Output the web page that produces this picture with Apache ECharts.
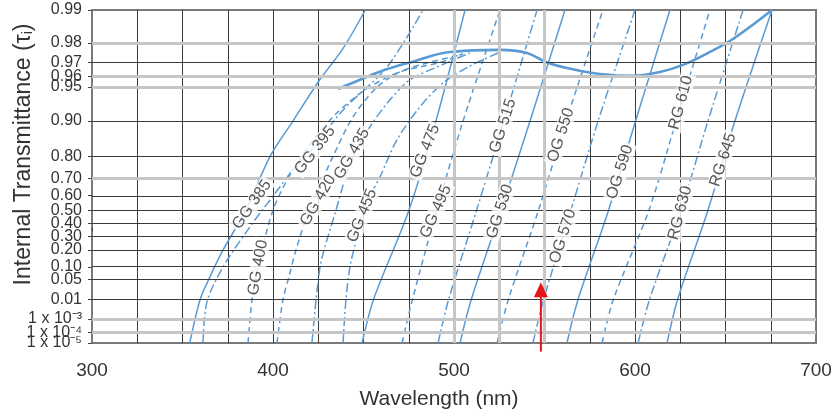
<!DOCTYPE html>
<html><head><meta charset="utf-8">
<script src="https://cdn.jsdelivr.net/npm/echarts@6/dist/echarts.min.js"></script>
<style>html,body{margin:0;padding:0;background:#fff}#c{width:832px;height:416px}</style>
</head><body><div id="c"></div>
<script>
// ---- axis data ----
const xMin = 300, xMax = 700, xStep = 25;
const xTickLabels = [300, 400, 500, 600, 700];
const xGrayLines = [500, 525, 550];
const yTickValues = [0.99, 0.98, 0.97, 0.96, 0.95, 0.90, 0.80, 0.70, 0.60, 0.50, 0.40, 0.30, 0.20, 0.10, 0.05, 0.01, 1e-3, 1e-4, 1e-5];
const yTickLabels = ['0.99','0.98','0.97','0.96','0.95','0.90','0.80','0.70','0.60','0.50','0.40','0.30','0.20','0.10','0.05','0.01','1 x 10⁻³','1 x 10⁻⁴','1 x 10⁻⁵'];
const yGrayLines = [0.98, 0.96, 0.95, 0.70, 1e-3, 1e-4];
const yThinLines = [0.97, 0.90, 0.80, 0.60, 0.50, 0.40, 0.30, 0.20, 0.10, 0.05, 0.01];

// ---- curves: [wavelength nm, internal transmittance] ----
const gg385 = [[354,1e-5],[359.7,0.01],[364.5,0.05],[372.4,0.2],[385,0.5],[398.3,0.8],[411,0.9],[425,0.955],[439,0.978],[451,0.99]];
const gg395 = [[361.3,1e-5],[363.5,0.008],[372.4,0.1],[385.6,0.34],[394,0.5],[398.3,0.57],[411,0.744],[421,0.823],[438.7,0.92],[463,0.967],[482.9,0.99]];
const gg400 = [[386.2,1e-5],[388.4,0.01],[391.7,0.1],[400,0.5],[409.4,0.72],[420.4,0.84],[434.3,0.912],[450.8,0.947],[470.2,0.9635],[492.3,0.970],[505,0.975]];
const gg420 = [[402.2,1e-5],[405.5,0.01],[408.8,0.058],[412.7,0.2],[419.9,0.5],[424.9,0.636],[433.1,0.8],[444.2,0.908],[457.5,0.95],[470.2,0.9635],[485.1,0.9696],[503.3,0.9743]];
const gg435 = [[421.5,1e-5],[423.8,0.01],[426,0.1],[428.2,0.2],[434.8,0.5],[439.8,0.7],[444.2,0.8],[453.6,0.888],[464.6,0.935],[475.7,0.957],[490.6,0.967],[508.8,0.9754]];
const gg455 = [[438.7,1e-5],[440.3,0.01],[442.5,0.1],[445.9,0.27],[449.7,0.5],[459.1,0.71],[468.5,0.855],[481.2,0.925],[493.9,0.954],[508.8,0.9677],[526,0.976]];
const gg475 = [[449.2,1e-5],[455.5,0.01],[475.1,0.5],[490,0.9],[506.1,0.99]];
const gg495 = [[471.3,1e-5],[477,0.01],[490.5,0.5],[505,0.9],[525.4,0.99]];
const gg515 = [[491.2,1e-5],[497,0.01],[512.5,0.5],[527.5,0.9],[545.9,0.99]];
const gg530 = [[503.3,1e-5],[509.5,0.01],[526,0.5],[542,0.9],[561.3,0.99]];
const og550 = [[523.8,1e-5],[530,0.01],[546.7,0.5],[561.9,0.9],[582.3,0.99]];
const og570 = [[543.6,1e-5],[549.5,0.01],[564.6,0.5],[579.6,0.9],[600,0.99]];
const og590 = [[562.4,1e-5],[568.5,0.01],[585.4,0.5],[600.3,0.9],[619.3,0.99]];
const rg610 = [[581.8,1e-5],[588,0.01],[607.7,0.5],[622.7,0.9],[641.4,0.99]];
const rg630 = [[601.7,1e-5],[608,0.01],[625.4,0.5],[640.3,0.9],[659.7,0.99]];
const rg645 = [[617.7,1e-5],[623.5,0.01],[640.3,0.5],[655.2,0.9],[675.7,0.99]];
const envelope = [[436,0.948],[448.1,0.957],[461.9,0.965],[475.7,0.970],[497.8,0.9759],[525.4,0.9769],[540.3,0.9754],[551.4,0.970],[566.9,0.965],[580.7,0.9618],[598.9,0.9603],[613.8,0.9634],[626.5,0.9684],[641.4,0.9759],[654.1,0.9816],[675.7,0.99]];

const curveNames = ['GG 385','GG 395','GG 400','GG 420','GG 435','GG 455','GG 475','GG 495','GG 515','GG 530','OG 550','OG 570','OG 590','RG 610','RG 630','RG 645'];
const curveData  = [gg385, gg395, gg400, gg420, gg435, gg455, gg475, gg495, gg515, gg530, og550, og570, og590, rg610, rg630, rg645];
const curveDash  = ['solid','dashdot','dashed','dashed','dashdot','dashdot','solid','dashed','dashdot','solid','dashed','dashdot','solid','dashed','dashdot','solid'];

// curve label anchors (wavelength, transmittance)
const labelWl = [388.4, 423.2, 391.7, 424.9, 443.6, 449.2, 484, 490, 527, 525.4, 559.1, 560.2, 591.7, 625.4, 624.9, 648.6];
const labelT  = [0.54, 0.823, 0.097, 0.57, 0.81, 0.46, 0.82, 0.49, 0.89, 0.49, 0.868, 0.30, 0.734, 0.931, 0.48, 0.787];
const labelRot = [55, 52, 80, 60, 60, 68, 68, 66, 72, 72, 72, 72, 72, 75, 75, 72];

// red arrow marker
const arrowWl = 548;
const arrowFromT = 1e-6, arrowHeadT = 0.024;

// ---- scale transform: log10(-ln T) ----
const yt = T => Math.log10(-Math.log(T));
const BLUE = '#5b9bd5';
const FONT = 'Liberation Sans, Arial, sans-serif';
const dashMap = { solid: 'solid', dashed: [6, 4], dashdot: [9, 3, 2, 3] };

const chart = echarts.init(document.getElementById('c'), null, { renderer: 'canvas' });

const series = [];
series.push({
  type: 'line', data: [], z: 1, silent: true,
  markLine: {
    silent: true, symbol: 'none', animation: false,
    label: { show: false },
    data: [
      ...yGrayLines.map(v => ({ yAxis: yt(v), lineStyle: { color: '#c6c6c6', width: 3, type: 'solid' } })),
      ...yThinLines.map(v => ({ yAxis: yt(v), lineStyle: { color: '#3a3a3a', width: 1, type: 'solid' } })),
      ...xGrayLines.map(v => ({ xAxis: v, lineStyle: { color: '#c6c6c6', width: 3, type: 'solid' } }))
    ]
  }
});
curveData.forEach((d, i) => {
  series.push({
    name: curveNames[i], type: 'line', z: 3, symbol: 'none', smooth: 0.3,
    data: d.map(p => [p[0], yt(p[1])]),
    lineStyle: { color: BLUE, width: 1.5, type: dashMap[curveDash[i]] }
  });
});
series.push({
  name: 'envelope', type: 'line', z: 3, symbol: 'none', smooth: 0.4,
  data: envelope.map(p => [p[0], yt(p[1])]),
  lineStyle: { color: BLUE, width: 2.6 }
});
series.push({
  type: 'scatter', z: 6, symbolSize: 0, silent: true,
  data: curveNames.map((n, i) => ({
    name: n, value: [labelWl[i], yt(labelT[i])],
    label: { rotate: labelRot[i] }
  })),
  label: {
    show: true, position: 'inside', formatter: '{b}',
    fontFamily: FONT, fontSize: 16, color: '#2a2a2a',
    backgroundColor: '#fff', padding: [0, 2]
  }
});
series.push({
  type: 'line', z: 7, clip: false, silent: true,
  data: [
    { value: [arrowWl, yt(arrowFromT)], symbol: 'none' },
    { value: [arrowWl, yt(arrowHeadT)], symbol: 'triangle', symbolSize: [14, 15], itemStyle: { color: '#e8141b' } }
  ],
  showSymbol: true,
  lineStyle: { color: '#e8141b', width: 2 }
});

// label positions: all ticks, plus a blank spacer entry at the end so no end label gets auto-hidden
const yLabelPositions = yTickValues.map(yt).concat([yt(0.85)]);

chart.setOption({
  animation: false,
  backgroundColor: '#fff',
  grid: { left: 92, right: 16, top: 10, bottom: 73, show: true, borderColor: '#7a7a7a', borderWidth: 2, outerBoundsMode: 'none', containLabel: false },
  xAxis: {
    type: 'value', min: xMin, max: xMax, interval: xStep,
    axisLine: { show: false },
    axisTick: { show: true, length: 4, lineStyle: { color: '#444' } },
    splitLine: { show: true, showMinLine: false, showMaxLine: false, lineStyle: { color: '#3a3a3a', width: 1 } },
    axisLabel: { customValues: xTickLabels, fontFamily: FONT, fontSize: 19, color: '#333', margin: 18 },
    name: 'Wavelength (nm)', nameLocation: 'middle', nameGap: 46, nameMoveOverlap: false,
    nameTextStyle: { fontFamily: FONT, fontSize: 21, color: '#333', padding: [0, 30, 0, 0] }
  },
  yAxis: {
    type: 'value', inverse: true, min: yt(0.99), max: yt(1e-5),
    axisLine: { show: false },
    splitLine: { show: false },
    axisTick: { show: true, length: 4, customValues: yTickValues.map(yt), lineStyle: { color: '#444' } },
    axisLabel: {
      customValues: yLabelPositions, fontFamily: FONT, fontSize: 16, lineHeight: 10, color: '#333', margin: 10,
      hideOverlap: false,
      formatter: v => {
        let best = -1, bd = 1e-6;
        yTickValues.forEach((t, i) => { const d = Math.abs(yt(t) - v); if (d < bd) { bd = d; best = i; } });
        return best < 0 ? ' ' : yTickLabels[best];
      }
    },
    name: 'Internal Transmittance (τ{sub|i})', nameLocation: 'middle', nameGap: 57, nameRotate: 90, nameMoveOverlap: false,
    nameTextStyle: { fontFamily: FONT, fontSize: 23, color: '#333', padding: [0, 0, 0, 44],
      rich: { sub: { fontSize: 14, verticalAlign: 'bottom', fontFamily: FONT, color: '#333' } } }
  },
  series
});
</script></body></html>
